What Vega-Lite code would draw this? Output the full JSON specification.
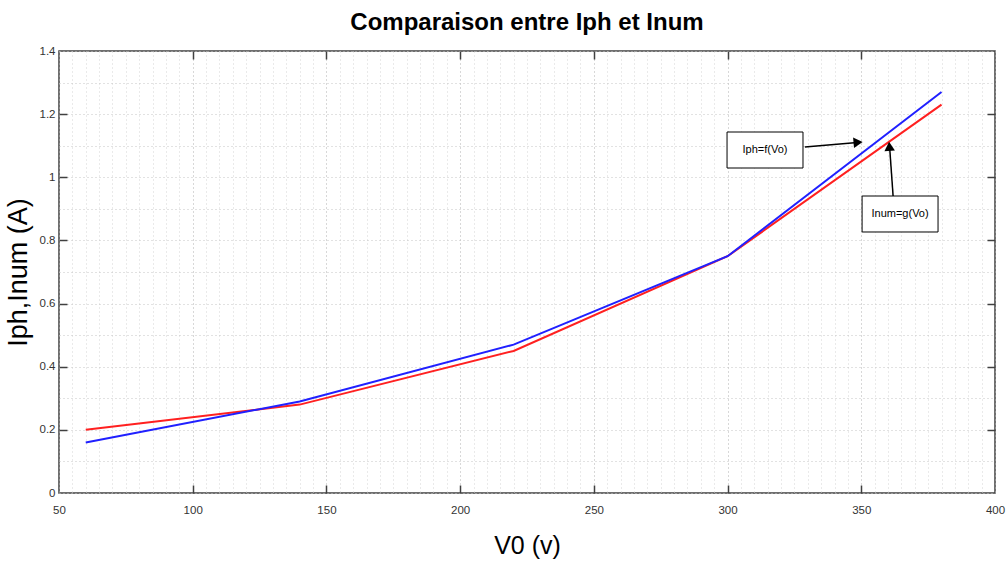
{
  "$schema": "https://vega.github.io/schema/vega-lite/v6.json",
  "width": 936,
  "height": 442,
  "autosize": {"type": "none"},
  "padding": {"left": 59, "top": 51, "right": 11, "bottom": 69},
  "background": "white",
  "title": {
    "text": "Comparaison entre Iph et Inum",
    "font": "Liberation Sans",
    "fontSize": 24,
    "fontWeight": "bold",
    "color": "#000000",
    "anchor": "middle",
    "offset": 10
  },
  "config": {
    "view": {"stroke": "#404040", "strokeWidth": 1.5},
    "axis": {
      "labelFont": "Liberation Sans",
      "labelFontSize": 11.5,
      "labelColor": "#333333",
      "titleFont": "Liberation Sans",
      "titleFontWeight": "normal",
      "titleColor": "#000000",
      "domain": false,
      "tickColor": "#404040",
      "tickWidth": 1.5,
      "labelOverlap": false,
      "labelFlush": false,
      "labelBound": false
    }
  },
  "datasets": {
    "curves": [
      {"v": 60, "i": 0.20, "s": "Inum"},
      {"v": 140, "i": 0.28, "s": "Inum"},
      {"v": 220, "i": 0.45, "s": "Inum"},
      {"v": 300, "i": 0.75, "s": "Inum"},
      {"v": 380, "i": 1.23, "s": "Inum"},
      {"v": 60, "i": 0.16, "s": "Iph"},
      {"v": 140, "i": 0.29, "s": "Iph"},
      {"v": 220, "i": 0.47, "s": "Iph"},
      {"v": 300, "i": 0.75, "s": "Iph"},
      {"v": 380, "i": 1.27, "s": "Iph"}
    ],
    "boxes": [
      {"x1": 299.8, "x2": 328.2, "y1": 1.1434, "y2": 1.0294, "xc": 314, "yc": 1.0864, "label": "Iph=f(Vo)"},
      {"x1": 350.3, "x2": 378.7, "y1": 0.9407, "y2": 0.8267, "xc": 364.5, "yc": 0.8837, "label": "Inum=g(Vo)"}
    ],
    "shafts": [
      {"x1": 328.9, "y1": 1.0959, "x2": 348.5, "y2": 1.1105},
      {"x1": 361.9, "y1": 0.9407, "x2": 360.6, "y2": 1.095}
    ],
    "head1": [{"x": 348.8, "y": 1.1107}],
    "head2": [{"x": 360.5, "y": 1.098}]
  },
  "resolve": {"axis": {"x": "independent", "y": "independent"}},
  "layer": [
    {
      "data": {"name": "curves"},
      "mark": {"type": "line", "strokeWidth": 2},
      "encoding": {
        "x": {
          "field": "v", "type": "quantitative",
          "scale": {"domain": [50, 400], "nice": false, "zero": false},
          "axis": {
            "orient": "bottom",
            "title": "V0 (v)",
            "titleFontSize": 25,
            "titlePadding": 18,
            "values": [50,55,60,65,70,75,80,85,90,95,100,105,110,115,120,125,130,135,140,145,150,155,160,165,170,175,180,185,190,195,200,205,210,215,220,225,230,235,240,245,250,255,260,265,270,275,280,285,290,295,300,305,310,315,320,325,330,335,340,345,350,355,360,365,370,375,380,385,390,395,400],
            "labelExpr": "datum.value % 50 === 0 ? datum.label : ''",
            "tickSize": -8,
            "labelPadding": 19,
            "tickOpacity": {"condition": {"test": "datum.value % 50 === 0 && datum.value > 50 && datum.value < 400", "value": 1}, "value": 0},
            "grid": true,
            "gridDash": [1, 3],
            "gridColor": {"condition": {"test": "datum.value % 50 === 0", "value": "#b0b0b0"}, "value": "#d4d4d4"},
            "gridWidth": 1
          }
        },
        "y": {
          "field": "i", "type": "quantitative",
          "scale": {"domain": [0, 1.4], "nice": false},
          "axis": {
            "orient": "left",
            "title": "Iph,Inum (A)",
            "titleFontSize": 27,
            "titlePadding": 7,
            "values": [0, 0.1, 0.2, 0.3, 0.4, 0.5, 0.6, 0.7, 0.8, 0.9, 1, 1.1, 1.2, 1.3, 1.4],
            "labelExpr": "round(datum.value * 10) % 2 === 0 ? format(datum.value, '~g') : ''",
            "tickSize": -8,
            "labelPadding": 12,
            "tickOpacity": {"condition": {"test": "round(datum.value * 10) % 2 === 0 && datum.value > 0.05 && datum.value < 1.35", "value": 1}, "value": 0},
            "grid": true,
            "gridDash": [1, 3],
            "gridColor": "#c4c4c4",
            "gridWidth": 1
          }
        },
        "color": {
          "field": "s", "type": "nominal",
          "scale": {"domain": ["Inum", "Iph"], "range": ["#ff2020", "#2020ff"]},
          "legend": null
        },
        "order": {"field": "v", "type": "quantitative"}
      }
    },
    {
      "data": {"name": "boxes"},
      "mark": {"type": "rect", "fill": "white", "stroke": "#000000", "strokeWidth": 1},
      "encoding": {
        "x": {
          "field": "x1", "type": "quantitative",
          "axis": {
            "orient": "top", "title": null, "labels": false, "grid": false,
            "values": [100, 150, 200, 250, 300, 350],
            "tickSize": -8
          }
        },
        "x2": {"field": "x2"},
        "y": {
          "field": "y1", "type": "quantitative",
          "axis": {
            "orient": "right", "title": null, "labels": false, "grid": false,
            "values": [0.2, 0.4, 0.6, 0.8, 1, 1.2],
            "tickSize": -8
          }
        },
        "y2": {"field": "y2"}
      }
    },
    {
      "data": {"name": "shafts"},
      "mark": {"type": "rule", "stroke": "#000000", "strokeWidth": 1.5},
      "encoding": {
        "x": {"field": "x1", "type": "quantitative", "axis": null},
        "y": {"field": "y1", "type": "quantitative", "axis": null},
        "x2": {"field": "x2"},
        "y2": {"field": "y2"}
      }
    },
    {
      "data": {"name": "head1"},
      "mark": {"type": "point", "shape": "triangle-right", "filled": true, "color": "#000000", "size": 110, "angle": 355, "opacity": 1},
      "encoding": {
        "x": {"field": "x", "type": "quantitative", "axis": null},
        "y": {"field": "y", "type": "quantitative", "axis": null}
      }
    },
    {
      "data": {"name": "head2"},
      "mark": {"type": "point", "shape": "triangle-up", "filled": true, "color": "#000000", "size": 110, "angle": 356, "opacity": 1},
      "encoding": {
        "x": {"field": "x", "type": "quantitative", "axis": null},
        "y": {"field": "y", "type": "quantitative", "axis": null}
      }
    },
    {
      "data": {"name": "boxes"},
      "mark": {"type": "text", "font": "Liberation Sans", "fontSize": 11, "color": "#000000", "align": "center", "baseline": "middle"},
      "encoding": {
        "x": {"field": "xc", "type": "quantitative", "axis": null},
        "y": {"field": "yc", "type": "quantitative", "axis": null},
        "text": {"field": "label"}
      }
    }
  ]
}
